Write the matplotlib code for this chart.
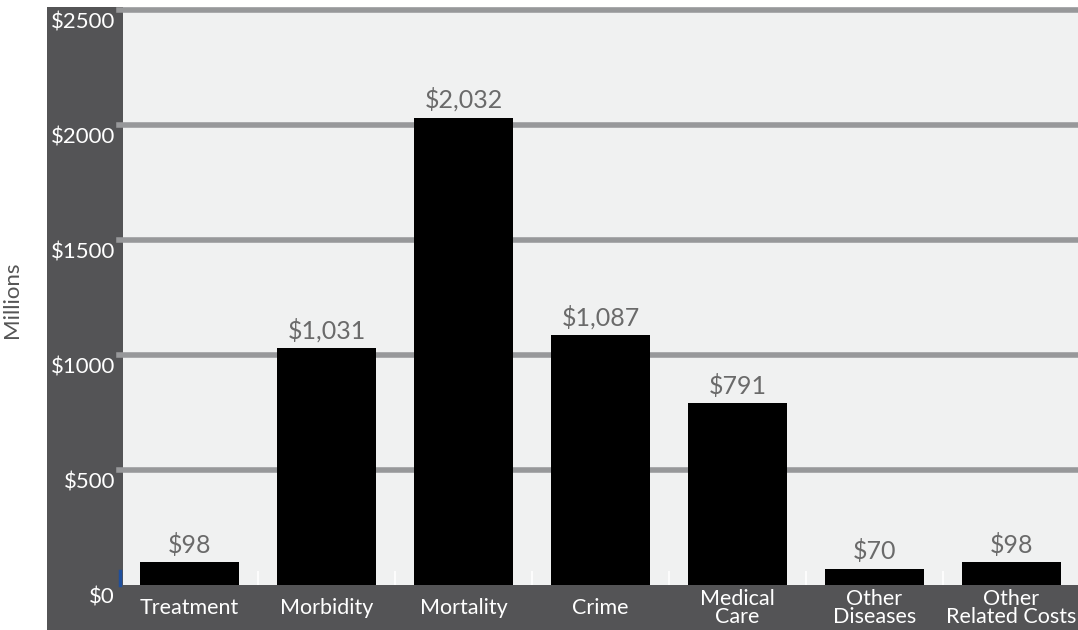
import matplotlib.pyplot as plt
from matplotlib.patches import Rectangle
from matplotlib.transforms import blended_transform_factory, ScaledTranslation

# Economic cost by category (millions of dollars)
categories = ["Treatment", "Morbidity", "Mortality", "Crime", "Medical\nCare",
              "Other\nDiseases", "Other\nRelated Costs"]
costs = [98, 1031, 2032, 1087, 791, 70, 98]
y_ticks = [0, 500, 1000, 1500, 2000, 2500]

DARK = "#545456"
PANEL = "#f0f1f1"
GRID = "#97989a"
plt.rcParams['font.family'] = ['Lato', 'DejaVu Sans']

W, H = 1078, 630
fig = plt.figure(figsize=(W / 100, H / 100), dpi=100)
fig.patch.set_facecolor("white")

# dark frame behind the plot area (left tick column + bottom label strip)
fig.patches.append(Rectangle((47 / W, 0), 1 - 47 / W, (H - 7) / H,
                             transform=fig.transFigure, facecolor=DARK,
                             edgecolor="none", zorder=-10))

ax = fig.add_axes([123 / W, 45 / H, (W - 123) / W, (585 - 7) / H])
ax.set_facecolor(PANEL)
for s in ax.spines.values():
    s.set_visible(False)

x = list(range(len(categories)))
ax.set_xlim(-0.485, len(categories) - 0.515)
ax.set_ylim(0, 2513)

# horizontal gridlines, reaching a little into the dark column
for v in y_ticks[1:]:
    ax.axhline(v, xmin=-0.004, xmax=1, color=GRID, lw=4, zorder=1, clip_on=False)

bars = ax.bar(x, costs, width=0.72, color="black", zorder=3)

# short white separators between categories
ax.vlines([i + 0.5 for i in x[:-1]], 0, 60, colors="white", lw=1.2, zorder=2)
ax.plot([-0.505, -0.505], [0, 60], color="#1f4f9c", lw=2.5, clip_on=False, zorder=4)

for b, v in zip(bars, costs):
    ax.annotate(f"${v:,}", (b.get_x() + b.get_width() / 2, v),
                xytext=(0, 4), textcoords="offset points", ha="center", va="bottom",
                fontsize=18, color="#6a6a6a")

ax.set_xticks([])
ax.set_yticks([])

# y tick labels sit just below their gridline
ytrans = blended_transform_factory(ax.transAxes, ax.transData) + \
    ScaledTranslation(0, -0.13, fig.dpi_scale_trans)
for v in y_ticks:
    ax.text(-8 / 955, v, f"${v}", transform=ytrans, ha="right", va="center",
            fontsize=16, color="white")

# category labels centred in the bottom strip
xtrans = blended_transform_factory(ax.transData, ax.transAxes)
for i, c in zip(x, categories):
    ax.text(i, -23 / 578, c, transform=xtrans, ha="center", va="center",
            fontsize=15.5, color="white", linespacing=0.9)

fig.text(12 / W, 1 - 300 / H, "Millions", rotation=90, ha="center", va="center",
         fontsize=16, color="#555555")

fig.savefig("out.png", dpi=100, facecolor=fig.get_facecolor())
